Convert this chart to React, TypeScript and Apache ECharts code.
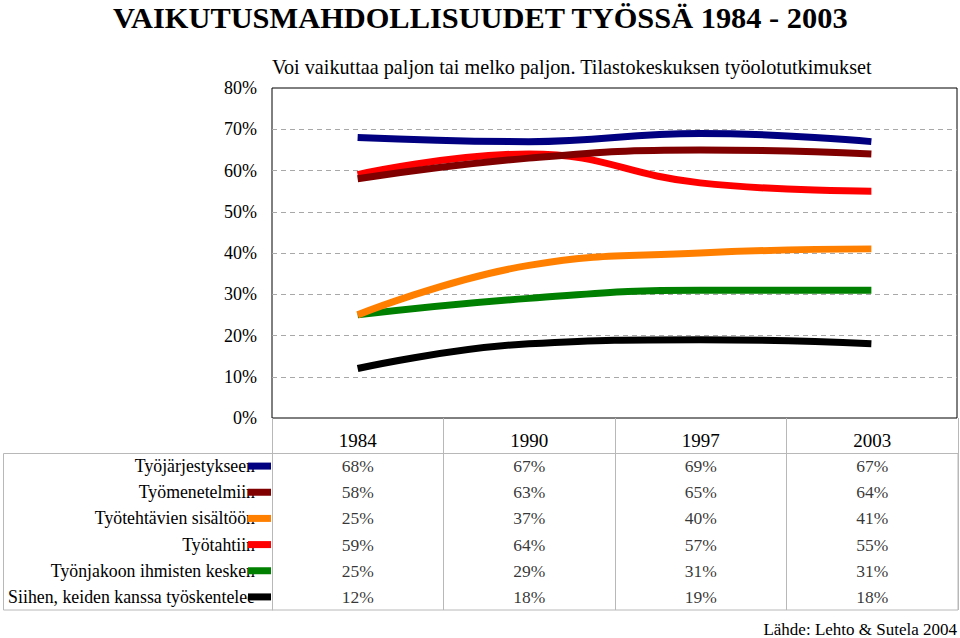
import React, { useEffect, useRef } from "react";
import * as echarts from "echarts";

const years = ["1984", "1990", "1997", "2003"];
const seriesNames = [
  "Työjärjestykseen",
  "Työmenetelmiin",
  "Työtehtävien sisältöön",
  "Työtahtiin",
  "Työnjakoon ihmisten kesken",
  "Siihen, keiden kanssa työskentelee",
];
const seriesColors = ["#000080", "#800000", "#FF8000", "#FF0000", "#008000", "#000000"];
const tyojarjestykseen = [68, 67, 69, 67];
const tyomenetelmiin = [58, 63, 65, 64];
const sisaltoon = [25, 37, 40, 41];
const tyotahtiin = [59, 64, 57, 55];
const tyonjakoon = [25, 29, 31, 31];
const keidenKanssa = [12, 18, 19, 18];
const seriesValues = [tyojarjestykseen, tyomenetelmiin, sisaltoon, tyotahtiin, tyonjakoon, keidenKanssa];
const zOrder = [8, 7, 6, 4, 3, 2];

const titleText = "VAIKUTUSMAHDOLLISUUDET TYÖSSÄ 1984 - 2003";
const subtitleText = "Voi vaikuttaa paljon tai melko paljon. Tilastokeskuksen työolotutkimukset";
const sourceText = "Lähde: Lehto & Sutela 2004";

const FONT = "Liberation Serif";
const GRAY = "#b8b8b8";
const ROW_FONT = 17.8;
const KEY_W = 23;
const KEY_OVERLAP = 7;

function measure(text: string, size: number): number {
  const c = document.createElement("canvas").getContext("2d");
  if (!c) return text.length * size * 0.45;
  c.font = `${size}px "${FONT}"`;
  return c.measureText(text).width;
}

export default function App() {
  const ref = useRef<HTMLDivElement>(null);
  useEffect(() => {
    const chart = echarts.init(ref.current!, null, { renderer: "svg" });
    const rich: any = {};
    seriesNames.forEach((n, i) => {
      rich["t" + i] = {
        fontSize: ROW_FONT,
        fontFamily: FONT,
        color: "#000",
        width: Math.max(10, measure(n, ROW_FONT) - KEY_OVERLAP),
        align: "left",
      };
      rich["k" + i] = { width: KEY_W, height: 7, backgroundColor: seriesColors[i], verticalAlign: "middle" };
    });
    const tableData: any[] = [];
    seriesValues.forEach((vals, r) => {
      vals.forEach((v, c) => tableData.push([c, r, v]));
    });
    chart.setOption({
      animation: false,
      backgroundColor: "#fff",
      textStyle: { fontFamily: FONT },
      title: [
        {
          text: titleText,
          left: 113,
          top: 3,
          padding: 0,
          textStyle: { fontFamily: FONT, fontWeight: "bold", fontSize: 30.4, color: "#000" },
        },
        {
          text: subtitleText,
          left: 272,
          top: 57,
          padding: 0,
          textStyle: { fontFamily: FONT, fontWeight: "normal", fontSize: 20.2, color: "#000" },
        },
        {
          text: sourceText,
          right: 3,
          top: 621,
          padding: 0,
          textStyle: { fontFamily: FONT, fontWeight: "normal", fontSize: 17, color: "#000" },
        },
      ],
      grid: [
        { left: 272, top: 88, width: 685, height: 330, show: true, borderColor: "#000", borderWidth: 1, backgroundColor: "transparent" },
        { left: 272, top: 453, width: 686, height: 157, show: false },
      ],
      xAxis: [
        {
          type: "category",
          gridIndex: 0,
          data: years,
          boundaryGap: true,
          axisLine: { show: false },
          axisTick: { show: false },
          axisLabel: { show: false },
        },
        {
          type: "category",
          gridIndex: 1,
          data: years,
          position: "top",
          boundaryGap: true,
          axisLine: { show: true, lineStyle: { color: GRAY, width: 1 } },
          axisTick: { show: true, length: 35, interval: 0, lineStyle: { color: GRAY, width: 1 } },
          axisLabel: { fontFamily: FONT, fontSize: 19, color: "#000", margin: 3 },
          splitLine: { show: true, interval: 0, lineStyle: { color: GRAY, width: 1 } },
        },
      ],
      yAxis: [
        {
          type: "value",
          gridIndex: 0,
          min: 0,
          max: 80,
          interval: 10,
          axisLine: { show: false },
          axisTick: { show: false },
          axisLabel: { fontFamily: FONT, fontSize: 18, color: "#000", margin: 15, formatter: (v: number) => v + "%" },
          splitLine: { show: true, showMinLine: false, showMaxLine: false, lineStyle: { color: "#a8a8a8", type: [5, 4], width: 1 } },
        },
        {
          type: "category",
          gridIndex: 1,
          data: seriesNames,
          inverse: true,
          axisLine: { show: true, lineStyle: { color: GRAY, width: 1 } },
          axisTick: { show: false },
          splitLine: { show: false },
          axisLabel: {
            margin: 1,
            interval: 0,
            fontFamily: FONT,
            fontSize: ROW_FONT,
            color: "#000",
            formatter: (v: string, i: number) => `{t${i}|${v}}{k${i}|}`,
            rich,
          },
        },
      ],
      graphic: [
        {
          type: "rect",
          shape: { x: 3.5, y: 453.5, width: 954.5, height: 156.5 },
          style: { fill: "none", stroke: GRAY, lineWidth: 1 },
          silent: true,
          z: 0,
        },
      ],
      series: [
        ...seriesNames.map((name, i) => ({
          name,
          type: "line",
          xAxisIndex: 0,
          yAxisIndex: 0,
          data: seriesValues[i],
          smooth: 0.45,
          showSymbol: false,
          symbol: "none",
          z: zOrder[i],
          lineStyle: { color: seriesColors[i], width: 7, cap: "butt" },
          itemStyle: { color: seriesColors[i] },
        })),
        {
          type: "scatter",
          xAxisIndex: 1,
          yAxisIndex: 1,
          data: tableData,
          symbolSize: 1,
          itemStyle: { color: "rgba(0,0,0,0)" },
          label: {
            show: true,
            position: "inside",
            fontFamily: FONT,
            fontSize: 17.5,
            color: "#000",
            formatter: (p: any) => p.value[2] + "%",
          },
          silent: true,
        },
      ],
    });
    return () => chart.dispose();
  }, []);
  return (
    <div
      ref={ref}
      style={{ position: "fixed", left: 0, top: 0, width: 960, height: 638, background: "#fff" }}
    />
  );
}
